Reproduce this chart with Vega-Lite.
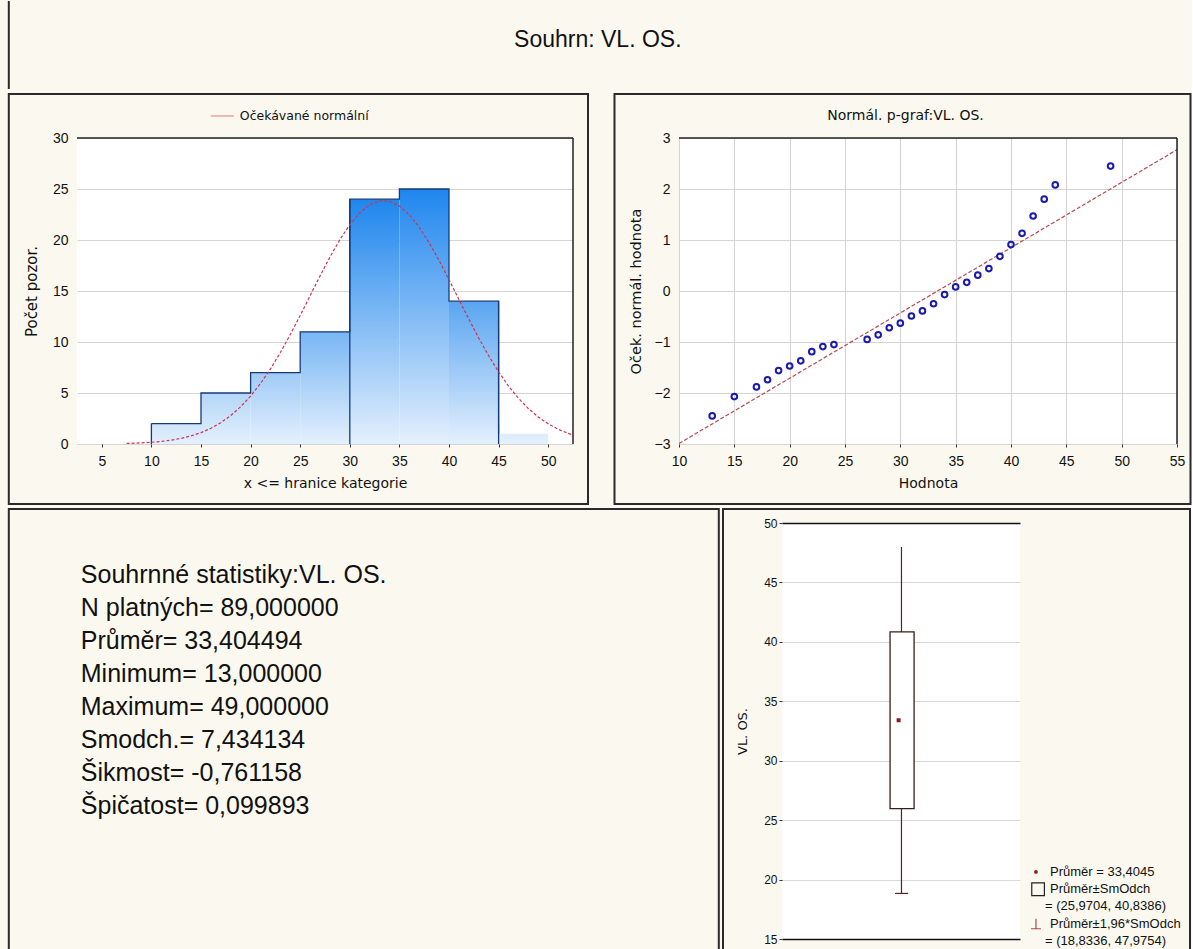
{
  "$schema": "https://vega.github.io/schema/vega-lite/v6.json",
  "background": "#fbf9ef",
  "padding": {"left": 7, "top": 0, "right": 0, "bottom": 0},
  "spacing": 2,
  "config": {
    "view": {"stroke": null},
    "axis": {"labelFont": "Liberation Sans", "labelFontSize": 14, "labelColor": "#111", "titleFont": "DejaVu Sans", "titleFontSize": 14, "titleFontWeight": "normal", "titleColor": "#111", "domain": false, "tickColor": "#333", "gridColor": "#d4d4d4", "labelFlush": false, "labelOverlap": false}
  },
  "datasets": {
    "bins": [
      {"start": 10, "end": 15, "count": 2},
      {"start": 15, "end": 20, "count": 5},
      {"start": 20, "end": 25, "count": 7},
      {"start": 25, "end": 30, "count": 11},
      {"start": 30, "end": 35, "count": 24},
      {"start": 35, "end": 40, "count": 25},
      {"start": 40, "end": 45, "count": 14},
      {"start": 45, "end": 50, "count": 1}
    ],
    "curve": [
      {"x": 7.5, "y": 0.055}, {"x": 8, "y": 0.070}, {"x": 9, "y": 0.109}, {"x": 10, "y": 0.168},
      {"x": 11, "y": 0.255}, {"x": 12, "y": 0.379}, {"x": 13, "y": 0.552}, {"x": 14, "y": 0.792},
      {"x": 15, "y": 1.115}, {"x": 16, "y": 1.541}, {"x": 17, "y": 2.092}, {"x": 18, "y": 2.791},
      {"x": 19, "y": 3.654}, {"x": 20, "y": 4.700}, {"x": 21, "y": 5.936}, {"x": 22, "y": 7.362},
      {"x": 23, "y": 8.968}, {"x": 24, "y": 10.728}, {"x": 25, "y": 12.603}, {"x": 26, "y": 14.541},
      {"x": 27, "y": 16.477}, {"x": 28, "y": 18.335}, {"x": 29, "y": 20.036}, {"x": 30, "y": 21.502},
      {"x": 31, "y": 22.663}, {"x": 32, "y": 23.458}, {"x": 33, "y": 23.845}, {"x": 34, "y": 23.804},
      {"x": 35, "y": 23.336}, {"x": 36, "y": 22.468}, {"x": 37, "y": 21.244}, {"x": 38, "y": 19.727},
      {"x": 39, "y": 17.989}, {"x": 40, "y": 16.111}, {"x": 41, "y": 14.169}, {"x": 42, "y": 12.238},
      {"x": 43, "y": 10.381}, {"x": 44, "y": 8.648}, {"x": 45, "y": 7.075}, {"x": 46, "y": 5.684},
      {"x": 47, "y": 4.485}, {"x": 48, "y": 3.476}, {"x": 49, "y": 2.645}, {"x": 50, "y": 1.977},
      {"x": 51, "y": 1.451}, {"x": 52, "y": 1.046}, {"x": 52.5, "y": 0.882}
    ],
    "pplot": [
      {"x": 13, "z": -2.45}, {"x": 15, "z": -2.07}, {"x": 17, "z": -1.88}, {"x": 18, "z": -1.74},
      {"x": 19, "z": -1.56}, {"x": 20, "z": -1.47}, {"x": 21, "z": -1.37}, {"x": 22, "z": -1.19},
      {"x": 23, "z": -1.09}, {"x": 24, "z": -1.05}, {"x": 27, "z": -0.95}, {"x": 28, "z": -0.86},
      {"x": 29, "z": -0.72}, {"x": 30, "z": -0.63}, {"x": 31, "z": -0.49}, {"x": 32, "z": -0.39},
      {"x": 33, "z": -0.25}, {"x": 34, "z": -0.07}, {"x": 35, "z": 0.08}, {"x": 36, "z": 0.17},
      {"x": 37, "z": 0.31}, {"x": 38, "z": 0.44}, {"x": 39, "z": 0.68}, {"x": 40, "z": 0.91},
      {"x": 41, "z": 1.13}, {"x": 42, "z": 1.47}, {"x": 43, "z": 1.80}, {"x": 44, "z": 2.08},
      {"x": 49, "z": 2.45}
    ],
    "pline": [{"x": 10, "z": -2.99}, {"x": 55, "z": 2.77}],
    "box": [{"mean": 33.4045, "lo1": 25.9704, "hi1": 40.8386, "lo2": 18.8336, "hi2": 47.9754}],
    "boxlegend": [
      {"r": 0, "t": "Průměr = 33,4045"},
      {"r": 1, "t": "Průměr±SmOdch"},
      {"r": 2, "t": "= (25,9704,  40,8386)"},
      {"r": 3, "t": "Průměr±1,96*SmOdch"},
      {"r": 4, "t": "= (18,8336,  47,9754)"}
    ],
    "stats": [
      {"r": 0, "t": "Souhrnné statistiky:VL. OS."},
      {"r": 1, "t": "N platných= 89,000000"},
      {"r": 2, "t": "Průměr= 33,404494"},
      {"r": 3, "t": "Minimum= 13,000000"},
      {"r": 4, "t": "Maximum= 49,000000"},
      {"r": 5, "t": "Smodch.=  7,434134"},
      {"r": 6, "t": "Šikmost= -0,761158"},
      {"r": 7, "t": "Špičatost=  0,099893"}
    ],
    "one": [{}]
  },
  "vconcat": [
    {
      "width": 1113.8, "height": 88,
      "view": {"stroke": null},
      "data": {"name": "one"},
      "layer": [
        {"mark": {"type": "text", "text": "Souhrn: VL. OS.", "font": "Liberation Sans", "fontSize": 23, "color": "#111", "baseline": "middle"},
         "encoding": {"x": {"datum": 0.4676, "scale": {"domain": [0, 1], "nice": false, "zero": false}, "axis": null},
                      "y": {"datum": 0.556, "scale": {"domain": [0, 1], "nice": false, "zero": false}, "axis": null}}},
        {"mark": {"type": "rule", "color": "#2a2a2a", "strokeWidth": 2},
         "encoding": {"x": {"datum": -0.06123, "scale": {"domain": [0, 1], "nice": false, "zero": false}, "axis": null},
                      "y": {"datum": 0, "scale": {"domain": [0, 1], "nice": false, "zero": false}, "axis": null}, "y2": {"datum": 1}}}
      ]
    },
    {
      "spacing": 24,
      "hconcat": [
        {
          "width": 496, "height": 306,
          "view": {"fill": "white", "stroke": null},
          "layer": [
            {"data": {"name": "one"},
             "mark": {"type": "rect", "filled": false, "stroke": "#2a2a2a", "strokeWidth": 2},
             "encoding": {"x": {"datum": -4.375, "scale": {"domain": [2.5, 52.5], "nice": false, "zero": false}}, "x2": {"datum": 54.012},
                          "y": {"datum": -5.882, "scale": {"domain": [0, 30], "nice": false, "zero": false}}, "y2": {"datum": 34.314}}},
            {"data": {"name": "bins"},
             "mark": {"type": "rect", "stroke": null},
             "encoding": {
               "x": {"field": "start", "type": "quantitative", "scale": {"domain": [2.5, 52.5], "nice": false, "zero": false},
                     "axis": {"title": "x <= hranice kategorie", "values": [5, 10, 15, 20, 25, 30, 35, 40, 45, 50], "grid": false, "tickSize": 3, "labelPadding": 7, "titlePadding": 8}},
               "x2": {"field": "end"},
               "y": {"field": "count", "type": "quantitative", "scale": {"domain": [0, 30], "nice": false, "zero": false},
                     "axis": {"title": "Počet pozor.", "values": [0, 5, 10, 15, 20, 25, 30], "grid": true, "ticks": false, "labelPadding": 9, "titlePadding": 13, "titleFontSize": 15}},
               "y2": {"datum": 0},
               "fill": {
                 "condition": [
                   {"test": "datum.count >= 24", "value": {"gradient": "linear", "x1": 0, "y1": 0, "x2": 0, "y2": 1, "stops": [{"offset": 0, "color": "#1f86ee"}, {"offset": 1, "color": "#e4f0fd"}]}},
                   {"test": "datum.count >= 14", "value": {"gradient": "linear", "x1": 0, "y1": 0, "x2": 0, "y2": 1, "stops": [{"offset": 0, "color": "#5aa5f1"}, {"offset": 1, "color": "#e4f0fd"}]}},
                   {"test": "datum.count >= 11", "value": {"gradient": "linear", "x1": 0, "y1": 0, "x2": 0, "y2": 1, "stops": [{"offset": 0, "color": "#78b6f4"}, {"offset": 1, "color": "#e4f0fd"}]}},
                   {"test": "datum.count >= 7", "value": {"gradient": "linear", "x1": 0, "y1": 0, "x2": 0, "y2": 1, "stops": [{"offset": 0, "color": "#a0cbf7"}, {"offset": 1, "color": "#e4f0fd"}]}},
                   {"test": "datum.count >= 5", "value": {"gradient": "linear", "x1": 0, "y1": 0, "x2": 0, "y2": 1, "stops": [{"offset": 0, "color": "#b3d6f8"}, {"offset": 1, "color": "#e4f0fd"}]}},
                   {"test": "datum.count >= 2", "value": {"gradient": "linear", "x1": 0, "y1": 0, "x2": 0, "y2": 1, "stops": [{"offset": 0, "color": "#cfe4fa"}, {"offset": 1, "color": "#e4f0fd"}]}}
                 ],
                 "value": {"gradient": "linear", "x1": 0, "y1": 0, "x2": 0, "y2": 1, "stops": [{"offset": 0, "color": "#dcecfc"}, {"offset": 1, "color": "#e4f0fd"}]}
               }
             }},
            {"data": {"name": "bins"},
             "mark": {"type": "line", "interpolate": "step-after", "color": "#163a78", "strokeWidth": 1.3},
             "encoding": {"x": {"field": "start", "type": "quantitative", "scale": {"domain": [2.5, 52.5], "nice": false, "zero": false}},
                          "y": {"field": "count", "type": "quantitative", "scale": {"domain": [0, 30], "nice": false, "zero": false}}}},
            {"data": {"name": "bins"},
             "transform": [{"filter": "datum.start == 10 || datum.start == 30"}],
             "mark": {"type": "rule", "color": "#163a78", "strokeWidth": 1.3},
             "encoding": {"x": {"field": "start", "type": "quantitative", "scale": {"domain": [2.5, 52.5], "nice": false, "zero": false}},
                          "y": {"field": "count", "type": "quantitative", "scale": {"domain": [0, 30], "nice": false, "zero": false}}, "y2": {"datum": 0}}},
            {"data": {"name": "bins"},
             "transform": [{"filter": "datum.start == 40"}],
             "mark": {"type": "rule", "color": "#163a78", "strokeWidth": 1.3},
             "encoding": {"x": {"field": "end", "type": "quantitative", "scale": {"domain": [2.5, 52.5], "nice": false, "zero": false}},
                          "y": {"field": "count", "type": "quantitative", "scale": {"domain": [0, 30], "nice": false, "zero": false}}, "y2": {"datum": 0}}},
            {"data": {"name": "curve"},
             "mark": {"type": "line", "strokeWidth": 1.2, "strokeDash": [3, 2], "color": "#cc3355"},
             "encoding": {"x": {"field": "x", "type": "quantitative", "scale": {"domain": [2.5, 52.5], "nice": false, "zero": false}},
                          "y": {"field": "y", "type": "quantitative", "scale": {"domain": [0, 30], "nice": false, "zero": false}}}},
            {"data": {"name": "one"},
             "mark": {"type": "rule", "color": "#ee8888", "strokeWidth": 1.2},
             "encoding": {"x": {"datum": 15.99, "scale": {"domain": [2.5, 52.5], "nice": false, "zero": false}}, "x2": {"datum": 18.31},
                          "y": {"datum": 32.16, "scale": {"domain": [0, 30], "nice": false, "zero": false}}}},
            {"data": {"name": "one"},
             "mark": {"type": "text", "text": "Očekávané normální", "align": "left", "baseline": "middle", "font": "DejaVu Sans", "fontSize": 12.5, "color": "#111"},
             "encoding": {"x": {"datum": 18.91, "scale": {"domain": [2.5, 52.5], "nice": false, "zero": false}},
                          "y": {"datum": 32.16, "scale": {"domain": [0, 30], "nice": false, "zero": false}}}},
            {"data": {"name": "one"},
             "mark": {"type": "rule", "color": "#222", "strokeWidth": 1.5},
             "encoding": {"x": {"datum": 2.5, "scale": {"domain": [2.5, 52.5], "nice": false, "zero": false}}, "x2": {"datum": 52.5},
                          "y": {"datum": 30, "scale": {"domain": [0, 30], "nice": false, "zero": false}}}},
            {"data": {"name": "one"},
             "mark": {"type": "rule", "color": "#222", "strokeWidth": 1.5},
             "encoding": {"x": {"datum": 52.5, "scale": {"domain": [2.5, 52.5], "nice": false, "zero": false}},
                          "y": {"datum": 0, "scale": {"domain": [0, 30], "nice": false, "zero": false}}, "y2": {"datum": 30}}}
          ]
        },
        {
          "width": 498, "height": 306,
          "view": {"fill": "white", "stroke": null},
          "layer": [
            {"data": {"name": "one"},
             "mark": {"type": "rect", "filled": false, "stroke": "#2a2a2a", "strokeWidth": 2},
             "encoding": {"x": {"datum": 4.171, "scale": {"domain": [10, 55], "nice": false, "zero": false}}, "x2": {"datum": 56.22},
                          "y": {"datum": -4.176, "scale": {"domain": [-3, 3], "nice": false, "zero": false}}, "y2": {"datum": 3.863}}},
            {"data": {"name": "pline"},
             "mark": {"type": "line", "color": "#b84850", "strokeWidth": 1.2, "strokeDash": [4, 2]},
             "encoding": {"x": {"field": "x", "type": "quantitative", "scale": {"domain": [10, 55], "nice": false, "zero": false},
                                "axis": {"title": "Hodnota", "values": [10, 15, 20, 25, 30, 35, 40, 45, 50, 55], "grid": true, "tickSize": 3, "labelPadding": 7, "titlePadding": 8}},
                          "y": {"field": "z", "type": "quantitative", "scale": {"domain": [-3, 3], "nice": false, "zero": false},
                                "axis": {"title": "Oček. normál. hodnota", "values": [-3, -2, -1, 0, 1, 2, 3], "grid": true, "ticks": false, "labelPadding": 9, "titlePadding": 11, "titleFontSize": 14.5}}}},
            {"data": {"name": "pplot"},
             "mark": {"type": "point", "shape": "circle", "filled": false, "stroke": "#1a1ab0", "strokeWidth": 2, "size": 32, "opacity": 1},
             "encoding": {"x": {"field": "x", "type": "quantitative", "scale": {"domain": [10, 55], "nice": false, "zero": false}},
                          "y": {"field": "z", "type": "quantitative", "scale": {"domain": [-3, 3], "nice": false, "zero": false}}}},
            {"data": {"name": "one"},
             "mark": {"type": "text", "text": "Normál. p-graf:VL. OS.", "align": "center", "baseline": "middle", "font": "DejaVu Sans", "fontSize": 14, "color": "#111"},
             "encoding": {"x": {"datum": 30.47, "scale": {"domain": [10, 55], "nice": false, "zero": false}},
                          "y": {"datum": 3.431, "scale": {"domain": [-3, 3], "nice": false, "zero": false}}}},
            {"data": {"name": "one"},
             "mark": {"type": "rule", "color": "#222", "strokeWidth": 1.5},
             "encoding": {"x": {"datum": 10, "scale": {"domain": [10, 55], "nice": false, "zero": false}}, "x2": {"datum": 55},
                          "y": {"datum": 3, "scale": {"domain": [-3, 3], "nice": false, "zero": false}}}},
            {"data": {"name": "one"},
             "mark": {"type": "rule", "color": "#222", "strokeWidth": 1.5},
             "encoding": {"x": {"datum": 55, "scale": {"domain": [10, 55], "nice": false, "zero": false}},
                          "y": {"datum": -3, "scale": {"domain": [-3, 3], "nice": false, "zero": false}}, "y2": {"datum": 3}}}
          ]
        }
      ]
    },
    {
      "spacing": 1,
      "hconcat": [
        {
          "width": 641.8, "height": 416,
          "view": {"stroke": null},
          "layer": [
            {"data": {"name": "one"},
             "mark": {"type": "rect", "filled": false, "stroke": "#2a2a2a", "strokeWidth": 2},
             "encoding": {"x": {"datum": -0.10626, "scale": {"domain": [0, 1], "nice": false, "zero": false}, "axis": null}, "x2": {"datum": 1},
                          "y": {"datum": -2.0, "scale": {"domain": [-1.5758, 11.0303], "nice": false, "zero": false, "reverse": true}, "axis": null}, "y2": {"datum": 11.7273}}},
            {"data": {"name": "stats"},
             "mark": {"type": "text", "align": "left", "baseline": "middle", "font": "Liberation Sans", "fontSize": 25, "color": "#111"},
             "encoding": {"x": {"datum": 0.00592, "scale": {"domain": [0, 1], "nice": false, "zero": false}, "axis": null},
                          "y": {"field": "r", "type": "quantitative", "scale": {"domain": [-1.5758, 11.0303], "nice": false, "zero": false, "reverse": true}, "axis": null},
                          "text": {"field": "t"}}}
          ]
        },
        {
          "width": 238, "height": 416,
          "view": {"fill": "white", "stroke": null},
          "resolve": {"scale": {"y": "independent"}},
          "layer": [
            {"data": {"name": "box"},
             "layer": [
               {"mark": {"type": "rect", "filled": false, "stroke": "#2a2a2a", "strokeWidth": 2},
                "encoding": {"x": {"datum": -0.2479, "scale": {"domain": [0, 1], "nice": false, "zero": false}, "axis": null}, "x2": {"datum": 1.7143},
                             "y": {"datum": 13.065, "scale": {"domain": [15, 50], "nice": false, "zero": false}}, "y2": {"datum": 51.178}}},
               {"mark": {"type": "rule", "color": "#5b2323", "strokeWidth": 1.2},
                "encoding": {"x": {"datum": 0.502, "scale": {"domain": [0, 1], "nice": false, "zero": false}, "axis": null},
                             "y": {"field": "lo2", "type": "quantitative", "scale": {"domain": [15, 50], "nice": false, "zero": false},
                                   "axis": {"title": "VL. OS.", "values": [15, 20, 25, 30, 35, 40, 45, 50], "grid": true,
                                            "gridColor": {"condition": {"test": "datum.value == 15 || datum.value == 50", "value": "#111"}, "value": "#d9d9d9"},
                                            "gridWidth": {"condition": {"test": "datum.value == 15 || datum.value == 50", "value": 1.5}, "value": 1},
                                            "tickSize": 3, "labelPadding": 2, "labelFontSize": 12, "titlePadding": 14, "titleFontSize": 13}},
                             "y2": {"field": "hi2"}}},
               {"mark": {"type": "rule", "color": "#5b2323", "strokeWidth": 1.2},
                "encoding": {"x": {"datum": 0.475, "scale": {"domain": [0, 1], "nice": false, "zero": false}, "axis": null}, "x2": {"datum": 0.53},
                             "y": {"field": "lo2", "type": "quantitative", "scale": {"domain": [15, 50], "nice": false, "zero": false}}}},
               {"mark": {"type": "rect", "fill": "white", "stroke": "#3a1c1c", "strokeWidth": 1.3},
                "encoding": {"x": {"datum": 0.454, "scale": {"domain": [0, 1], "nice": false, "zero": false}, "axis": null}, "x2": {"datum": 0.555},
                             "y": {"field": "lo1", "type": "quantitative", "scale": {"domain": [15, 50], "nice": false, "zero": false}},
                             "y2": {"field": "hi1"}}},
               {"mark": {"type": "point", "shape": "square", "filled": true, "color": "#8b1c1c", "size": 16, "opacity": 1},
                "encoding": {"x": {"datum": 0.49, "scale": {"domain": [0, 1], "nice": false, "zero": false}, "axis": null},
                             "y": {"field": "mean", "type": "quantitative", "scale": {"domain": [15, 50], "nice": false, "zero": false}}}}
             ]},
            {"data": {"name": "boxlegend"},
             "layer": [
               {"transform": [{"filter": "datum.r == 0 || datum.r == 1 || datum.r == 3"}],
                "mark": {"type": "text", "align": "left", "baseline": "middle", "font": "Liberation Sans", "fontSize": 13, "color": "#111"},
                "encoding": {"x": {"datum": 1.126, "scale": {"domain": [0, 1], "nice": false, "zero": false}, "axis": null},
                             "y": {"field": "r", "type": "quantitative", "scale": {"domain": [-20.23, 3.884], "nice": false, "zero": false, "reverse": true}, "axis": null},
                             "text": {"field": "t"}}},
               {"transform": [{"filter": "datum.r == 2 || datum.r == 4"}],
                "mark": {"type": "text", "align": "left", "baseline": "middle", "font": "Liberation Sans", "fontSize": 13, "color": "#111"},
                "encoding": {"x": {"datum": 1.105, "scale": {"domain": [0, 1], "nice": false, "zero": false}, "axis": null},
                             "y": {"field": "r", "type": "quantitative", "scale": {"domain": [-20.23, 3.884], "nice": false, "zero": false, "reverse": true}, "axis": null},
                             "text": {"field": "t"}}},
               {"transform": [{"filter": "datum.r == 0"}],
                "mark": {"type": "point", "shape": "circle", "filled": true, "color": "#8b1c1c", "size": 14, "opacity": 1},
                "encoding": {"x": {"datum": 1.067, "scale": {"domain": [0, 1], "nice": false, "zero": false}, "axis": null},
                             "y": {"field": "r", "type": "quantitative", "scale": {"domain": [-20.23, 3.884], "nice": false, "zero": false, "reverse": true}, "axis": null}}},
               {"transform": [{"filter": "datum.r == 1"}],
                "mark": {"type": "point", "shape": "square", "filled": false, "stroke": "#222", "strokeWidth": 1.2, "size": 160, "opacity": 1},
                "encoding": {"x": {"datum": 1.076, "scale": {"domain": [0, 1], "nice": false, "zero": false}, "axis": null},
                             "y": {"field": "r", "type": "quantitative", "scale": {"domain": [-20.23, 3.884], "nice": false, "zero": false, "reverse": true}, "axis": null}}},
               {"transform": [{"filter": "datum.r == 3"}],
                "mark": {"type": "point", "shape": "M -1 1 L 1 1 M 0 1 L 0 -1", "filled": false, "stroke": "#b04848", "strokeWidth": 1.2, "size": 100, "opacity": 1},
                "encoding": {"x": {"datum": 1.067, "scale": {"domain": [0, 1], "nice": false, "zero": false}, "axis": null},
                             "y": {"field": "r", "type": "quantitative", "scale": {"domain": [-20.23, 3.884], "nice": false, "zero": false, "reverse": true}, "axis": null}}}
             ]}
          ]
        }
      ]
    }
  ]
}
